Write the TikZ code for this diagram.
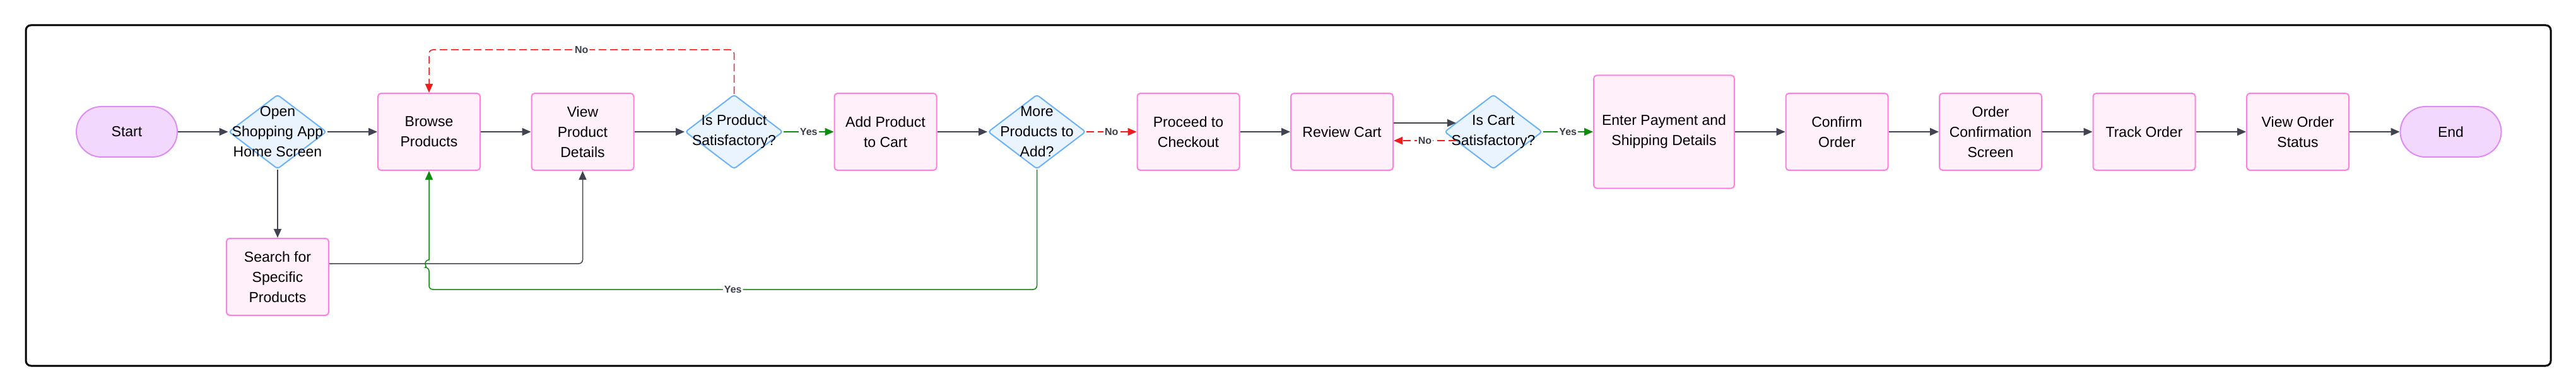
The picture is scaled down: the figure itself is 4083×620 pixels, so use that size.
\documentclass[tikz,border=0pt]{standalone}
\usepackage{fontspec}
\setmainfont{Liberation Sans}
\usetikzlibrary{shapes.geometric,positioning,calc,arrows.meta}
\definecolor{boxfill}{HTML}{FFF0FA}
\definecolor{boxline}{HTML}{FF7FDF}
\definecolor{decfill}{HTML}{EAF4FF}
\definecolor{decline}{HTML}{6CB2F7}
\definecolor{termfill}{HTML}{F2D8FC}
\definecolor{termline}{HTML}{DD8CF3}
\definecolor{arrgray}{HTML}{3F4450}
\definecolor{yesgreen}{HTML}{0E8C0E}
\definecolor{nored}{HTML}{EE1C1C}
\definecolor{lblgray}{HTML}{3A3F4B}
\tikzset{
  node distance=39.75pt,
  flow_base/.style = {align=center, inner sep=0pt, text centered, font=\fontsize{11.5pt}{16pt}\selectfont},
  flow_box/.style = {flow_base, rectangle, rounded corners=2.5pt, draw=boxline, fill=boxfill, line width=1pt, minimum width=81pt, minimum height=61pt},
  flow_term/.style = {flow_base, rectangle, rounded corners=20pt, draw=termline, fill=termfill, line width=1pt, minimum width=80pt, minimum height=40pt},
  flow_dec/.style = {diamond, rounded corners=2pt, draw=decline, fill=decfill, line width=1pt, minimum width=77.5pt, minimum height=59pt, inner sep=0pt},
  dec_txt/.style = {flow_base},
  edge_lbl/.style = {font=\fontsize{8pt}{9pt}\selectfont\bfseries, text=lblgray, fill=white, inner sep=1pt},
  flow_arr/.style = {draw=arrgray, line width=0.75pt, -{Triangle[length=7pt,width=6pt]}},
  yes_arr/.style = {flow_arr, draw=yesgreen},
  no_arr/.style = {flow_arr, draw=nored, dash pattern=on 6pt off 3pt},
  frame_box/.style = {draw=black, line width=1.5pt, rounded corners=4pt}
}
\begin{document}
\begin{tikzpicture}[x=0.5pt, y=-0.5pt]
\useasboundingbox (0,0) rectangle (4083,620);
\draw[frame_box] (41,40) rectangle (4043,580);

\node[flow_term] (start) at (201,209) {Start};
\node[flow_dec, right=of start, label={[dec_txt]center:Open\\Shopping App\\Home Screen}] (d1) {};
\node[flow_box, right=of d1] (browse) {Browse\\Products};
\node[flow_box, below=54pt of d1] (search) {Search for\\Specific\\Products};
\node[flow_box, right=of browse] (view) {View\\Product\\Details};
\node[flow_dec, right=of view, label={[dec_txt]center:Is Product\\Satisfactory?}] (d2) {};
\node[flow_box, right=of d2] (add) {Add Product\\to Cart};
\node[flow_dec, right=of add, label={[dec_txt]center:More\\Products to\\Add?}] (d3) {};
\node[flow_box, right=of d3] (proceed) {Proceed to\\Checkout};
\node[flow_box, right=of proceed] (review) {Review Cart};
\node[flow_dec, right=of review, label={[dec_txt]center:Is Cart\\Satisfactory?}] (d4) {};
\node[flow_box, right=of d4, minimum width=111.5pt, minimum height=89.5pt] (enter) {Enter Payment and\\Shipping Details};
\node[flow_box, right=of enter] (confirm) {Confirm\\Order};
\node[flow_box, right=of confirm] (ordconf) {Order\\Confirmation\\Screen};
\node[flow_box, right=of ordconf] (track) {Track Order};
\node[flow_box, right=of track] (status) {View Order\\Status};
\node[flow_term, right=of status] (end) {End};

\coordinate (s_out) at ($(search.east)+(0,-21)$);
\coordinate (hop) at (browse.south |- s_out);
\coordinate (rc_out) at ($(review.east)+(0,-14)$);
\coordinate (rc_in) at ($(review.east)+(0,14)$);

\draw[flow_arr] (start) -- (d1);
\draw[flow_arr] (d1) -- (browse);
\draw[flow_arr] (d1) -- (search);
\draw[flow_arr] (browse) -- (view);
\draw[flow_arr, rounded corners=3pt] (s_out) -| (view.south);
\draw[flow_arr] (view) -- (d2);
\draw[no_arr, rounded corners=3pt] (d2.north) -- ++(0,-70) -| node[edge_lbl, pos=0.25]{No} (browse.north);
\draw[yes_arr] (d2) -- node[edge_lbl]{Yes} (add);
\draw[flow_arr] (add) -- (d3);
\draw[yes_arr, rounded corners=3pt] (d3.south) |- node[edge_lbl, pos=0.75]{Yes} ($(hop)+(0,41)$) -- ($(hop)+(0,6)$) [sharp corners] arc[start angle=270, end angle=90, radius=3pt] -- (browse.south);
\draw[no_arr] (d3) -- node[edge_lbl]{No} (proceed);
\draw[flow_arr] (proceed) -- (review);
\draw[flow_arr] (rc_out) -- (rc_out -| d4.166);
\draw[no_arr] (rc_in -| d4.194) -- node[edge_lbl]{No} (rc_in);
\draw[yes_arr] (d4) -- node[edge_lbl]{Yes} (enter);
\draw[flow_arr] (enter) -- (confirm);
\draw[flow_arr] (confirm) -- (ordconf);
\draw[flow_arr] (ordconf) -- (track);
\draw[flow_arr] (track) -- (status);
\draw[flow_arr] (status) -- (end);
\end{tikzpicture}
\end{document}
